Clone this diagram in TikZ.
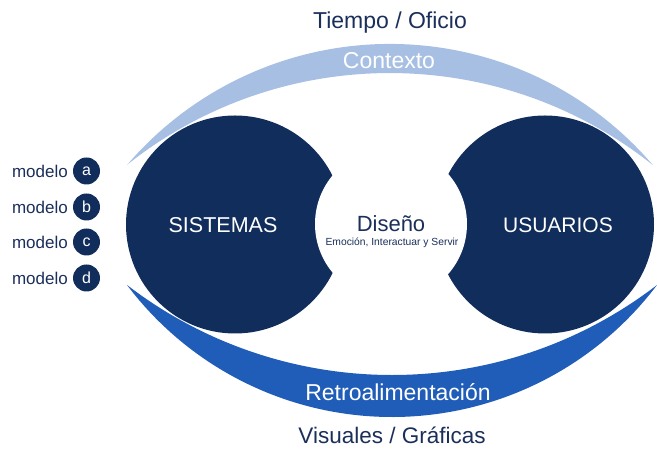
\documentclass[tikz,border=0pt]{standalone}
\usepackage{fontspec}
\setmainfont{Liberation Sans}
\definecolor{navy}{HTML}{112D5B}
\definecolor{txtnavy}{HTML}{1B2F5B}
\definecolor{lightblue}{HTML}{A7BFE3}
\definecolor{midblue}{HTML}{205DB8}
\begin{document}
\begin{tikzpicture}[x=1pt,y=1pt,
  lbl/.style={inner sep=0pt,text=txtnavy},
  wlbl/.style={inner sep=0pt,text=white},
  badge/.style={circle,fill=navy,minimum size=27pt,inner sep=0pt,text=white,font=\fontsize{16}{16}\selectfont},
  modlbl/.style={inner sep=0pt,text=txtnavy,font=\fontsize{17}{17}\selectfont,anchor=east}]
\useasboundingbox (0,0) rectangle (657,449);
% top crescent (Contexto)
\fill[lightblue] (127,284) arc[start angle=139.45,end angle=40.55,radius=346]
  arc[start angle=51.45,end angle=128.55,radius=422] -- cycle;
% bottom crescent (Retroalimentacion)
\fill[midblue] (127,164) arc[start angle=217.04,end angle=322.96,radius=332]
  arc[start angle=307.53,end angle=232.47,radius=435] -- cycle;
% circles
\fill[navy] (235,224.5) circle[radius=109];
\fill[navy] (545,224.5) circle[radius=109];
\fill[white] (391,225) circle[radius=76];
% texts
\node[lbl,font=\fontsize{23}{23}\selectfont] (tiempo) at (390,426) {Tiempo / Oficio};
\node[wlbl,font=\fontsize{23}{23}\selectfont] (contexto) at (389,388) {Contexto};
\node[wlbl,font=\fontsize{23}{23}\selectfont] (retro) at (398,57) {Retroalimentación};
\node[lbl,font=\fontsize{22.5}{22.5}\selectfont,anchor=base] (visuales) at (392,5) {Visuales / Gráficas};
\node[wlbl,font=\fontsize{21.5}{21.5}\selectfont] (sistemas) at (223,224) {SISTEMAS};
\node[wlbl,font=\fontsize{21}{21}\selectfont] (usuarios) at (558,224) {USUARIOS};
\node[lbl,font=\fontsize{22}{22}\selectfont] (diseno) at (391,225) {Diseño};
\node[lbl,font=\fontsize{10.3}{10.3}\selectfont] (emocion) at (392,206) {Emoción, Interactuar y Servir};
% modelos
\node[badge] (ba) at (86.5,278) {a};
\node[badge] (bb) at (86.5,242) {b};
\node[badge] (bc) at (86.5,207) {c};
\node[badge] (bd) at (86.5,171) {d};
\node[modlbl] (ma) at (68,278) {modelo};
\node[modlbl] (mb) at (68,242) {modelo};
\node[modlbl] (mc) at (68,207) {modelo};
\node[modlbl] (md) at (68,171) {modelo};
\end{tikzpicture}
\end{document}
